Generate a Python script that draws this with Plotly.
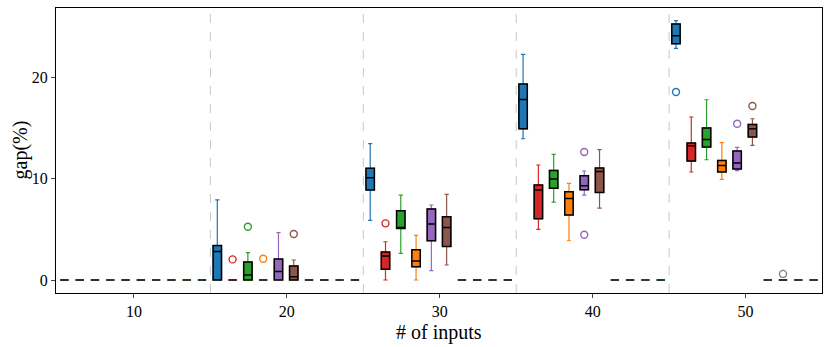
import plotly.graph_objects as go

# x groups (# of inputs) and separators between them
groups = [10, 20, 30, 40, 50]
separators = [15, 25, 35, 45]

# per method, per group: (lower whisker, q1, median, q3, upper whisker)
Z = (0, 0, 0, 0, 0)
blue = [Z, (0, 0, 2.8, 3.4, 7.9), (5.87, 8.87, 10.08, 11.0, 13.43),
        (13.92, 14.9, 17.79, 19.31, 22.23), (22.82, 23.28, 24.07, 25.22, 25.55)]
red = [Z, Z, (0, 1.05, 2.36, 2.76, 3.77),
       (4.99, 6.04, 8.87, 9.36, 11.33), (10.64, 11.72, 13.23, 13.5, 16.06)]
green = [Z, (0, 0, 0.49, 1.77, 2.69), (2.62, 5.08, 5.18, 6.83, 8.37),
         (7.68, 9.03, 9.95, 10.8, 12.37), (11.85, 13.1, 13.85, 14.98, 17.76)]
orange = [Z, Z, (0, 1.31, 1.87, 2.99, 4.4),
          (3.87, 6.4, 8.04, 8.7, 9.52), (9.91, 10.64, 11.29, 11.78, 13.53)]
purple = [Z, (0, 0, 0.85, 2.07, 4.66), (0.92, 3.87, 5.52, 7.0, 7.39),
          (8.37, 8.9, 9.29, 10.28, 10.74), (10.77, 10.94, 11.53, 12.7, 13.07)]
brown = [Z, (0, 0, 0.33, 1.38, 1.97), (1.48, 3.31, 5.18, 6.24, 8.44),
         (7.09, 8.63, 10.7, 11.03, 12.84), (13.26, 14.09, 14.9, 15.33, 15.89)]
pink = [Z, Z, Z, Z, Z]
gray = [Z, Z, Z, Z, Z]
olive = [Z, Z, Z, Z, Z]
cyan = [Z, Z, Z, Z, Z]

# outliers: (group, value)
blue_out = [(50, 18.52)]
red_out = [(20, 2.03), (30, 5.58)]
green_out = [(20, 5.25)]
orange_out = [(20, 2.1)]
purple_out = [(40, 12.61), (40, 4.46), (50, 15.4)]
brown_out = [(20, 4.53), (50, 17.14)]
gray_out = [(50, 0.6)]

methods = [
    (blue, blue_out, "#1f77b4"),
    (red, red_out, "#d62728"),
    (green, green_out, "#2ca02c"),
    (orange, orange_out, "#ff7f0e"),
    (purple, purple_out, "#9467bd"),
    (brown, brown_out, "#8c564b"),
    (pink, [], "#e377c2"),
    (gray, gray_out, "#7f7f7f"),
    (olive, [], "#bcbd22"),
    (cyan, [], "#17becf"),
]

W = 0.55
fig = go.Figure()

for k, (stats, outs, color) in enumerate(methods):
    xs = [g - 4.55 + k for g in groups]
    lo = [s[0] for s in stats]
    q1 = [s[1] for s in stats]
    med = [s[2] for s in stats]
    q3 = [s[3] for s in stats]
    hi = [s[4] for s in stats]
    # coloured whiskers
    fig.add_trace(go.Box(x=xs, q1=q1, median=med, q3=q3, lowerfence=lo,
                         upperfence=hi, width=W, whiskerwidth=0.5,
                         line=dict(color=color, width=1.2), fillcolor=color,
                         showlegend=False, hoverinfo="skip"))
    # black-edged box on top
    fig.add_trace(go.Box(x=xs, q1=q1, median=med, q3=q3, lowerfence=q1,
                         upperfence=q3, width=W, whiskerwidth=0,
                         line=dict(color="black", width=1.5), fillcolor=color,
                         showlegend=False, hoverinfo="skip"))
    if outs:
        fig.add_trace(go.Scatter(
            x=[g - 4.55 + k for g, _ in outs], y=[v for _, v in outs],
            mode="markers", showlegend=False,
            marker=dict(symbol="circle-open", size=7, color=color,
                        line=dict(width=1.4, color=color))))

for s in separators:
    fig.add_vline(x=s, line=dict(color="#c8c8c8", width=1, dash="dash"),
                  layer="below")

font = "Liberation Serif, DejaVu Serif, serif"
fig.update_layout(
    width=830, height=347,
    margin=dict(l=56, r=8, t=8, b=54),
    paper_bgcolor="white", plot_bgcolor="white",
    boxmode="overlay",
    font=dict(family=font, color="black", size=16),
    xaxis=dict(range=[4.9, 55.0], tickvals=groups, showgrid=False,
               zeroline=False, showline=True, mirror=True, linecolor="black",
               linewidth=1, ticks="outside", ticklen=4, automargin=False),
    yaxis=dict(range=[-1.28, 26.8], tickvals=[0, 10, 20], showgrid=False,
               zeroline=False, showline=True, mirror=True, linecolor="black",
               linewidth=1, ticks="outside", ticklen=4, automargin=False),
    annotations=[
        dict(text="# of inputs", xref="paper", yref="paper", x=0.5, y=0,
             yshift=-26, showarrow=False, font=dict(size=20),
             xanchor="center", yanchor="top"),
        dict(text="gap(%)", xref="paper", yref="paper", x=0, y=0.5,
             xshift=-36, showarrow=False, font=dict(size=20), textangle=-90,
             xanchor="center", yanchor="middle"),
    ],
)

fig.write_html("out.html", config={"displayModeBar": False},
               post_script="document.body.style.margin='0px';")
